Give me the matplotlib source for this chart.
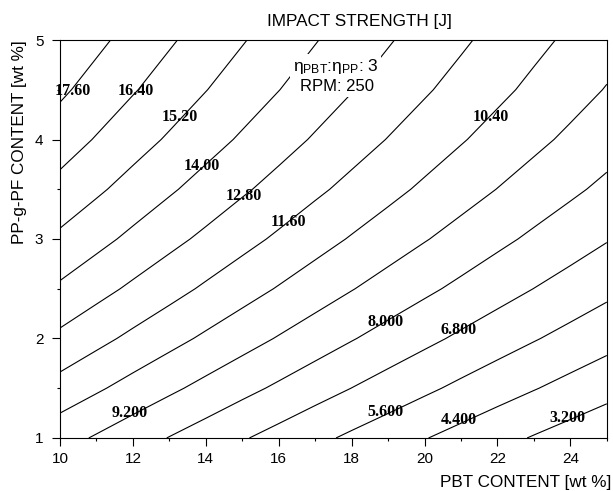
import numpy as np
import matplotlib
matplotlib.use('Agg')
import matplotlib.pyplot as plt
from matplotlib.ticker import MultipleLocator

plt.rcParams['font.family'] = ['Liberation Sans', 'DejaVu Sans']
plt.rcParams['mathtext.fontset'] = 'custom'
plt.rcParams['mathtext.rm'] = 'Liberation Sans'
plt.rcParams['mathtext.it'] = 'Liberation Sans:italic'

# impact strength [J], rows = PP-g-PF content, cols = PBT content
pbt = [10, 11, 12, 13, 14, 15, 16, 17, 18, 19, 20, 21, 22, 23, 24, 25]
ppgpf = [1, 1.5, 2, 2.5, 3, 3.5, 4, 4.5, 5]
impact = [
    [9.65, 9.08, 8.51, 7.96, 7.43, 6.90, 6.39, 5.88, 5.39, 4.92, 4.45, 4.00, 3.55, 3.12, 2.71, 2.30],
    [11.15, 10.56, 9.98, 9.42, 8.87, 8.33, 7.81, 7.29, 6.79, 6.30, 5.82, 5.35, 4.90, 4.46, 4.03, 3.61],
    [12.53, 11.93, 11.34, 10.77, 10.21, 9.66, 9.12, 8.59, 8.07, 7.57, 7.08, 6.60, 6.13, 5.68, 5.24, 4.81],
    [13.81, 13.19, 12.59, 12.01, 11.43, 10.87, 10.32, 9.78, 9.25, 8.73, 8.23, 7.74, 7.26, 6.79, 6.34, 5.89],
    [14.97, 14.35, 13.73, 13.13, 12.55, 11.97, 11.41, 10.85, 10.31, 9.79, 9.27, 8.77, 8.27, 7.79, 7.33, 6.87],
    [16.03, 15.39, 14.76, 14.15, 13.55, 12.96, 12.39, 11.82, 11.27, 10.73, 10.20, 9.68, 9.18, 8.69, 8.21, 7.74],
    [16.97, 16.32, 15.68, 15.06, 14.45, 13.85, 13.26, 12.68, 12.11, 11.56, 11.02, 10.49, 9.97, 9.47, 8.98, 8.50],
    [17.81, 17.14, 16.49, 15.86, 15.23, 14.62, 14.02, 13.43, 12.85, 12.28, 11.73, 11.19, 10.66, 10.14, 9.64, 9.14],
    [18.53, 17.86, 17.19, 16.54, 15.91, 15.28, 14.67, 14.06, 13.47, 12.90, 12.33, 11.78, 11.23, 10.70, 10.19, 9.68],
]
levels = [3.2, 4.4, 5.6, 6.8, 8.0, 9.2, 10.4, 11.6, 12.8, 14.0, 15.2, 16.4, 17.6]

# where the level labels sit
label_pos = [(10.34, 4.49), (12.07, 4.49), (13.3, 4.23), (13.88, 3.73),
             (15.04, 3.43), (16.27, 3.17), (21.83, 4.23), (11.9, 1.25),
             (18.94, 2.17), (20.93, 2.09), (18.94, 1.26), (20.93, 1.18),
             (23.92, 1.2)]

fig = plt.figure(figsize=(6.13, 4.91), dpi=100)
ax = fig.add_axes([0.0979, 0.108, 0.892, 0.8105])

X, Y = np.meshgrid(pbt, ppgpf)
cs = ax.contour(X, Y, np.array(impact), levels=levels, colors='black', linewidths=0.8)
labels = ax.clabel(cs, manual=label_pos, inline=False,
                   fmt=lambda v: format(v, '#.4g'), fontsize=11.5)
for t, p in zip(labels, label_pos):
    t.set_position(p)
    t.set_rotation(0)
    t.set_fontfamily('Liberation Serif')
    t.set_fontweight('bold')
    t.set_clip_on(False)

box = dict(facecolor='white', edgecolor='none', pad=2)
ax.text(16.38, 4.69, r'$\mathrm{\eta}_{\mathrm{PBT}}$:$\mathrm{\eta}_{\mathrm{PP}}$: 3',
        fontsize=12.5, ha='left', va='baseline', bbox=box, zorder=5)
ax.text(16.58, 4.485, 'RPM: 250', fontsize=12, ha='left', va='baseline', bbox=box, zorder=5)

ax.set_xlim(10, 25)
ax.set_ylim(1, 5)
ax.xaxis.set_major_locator(MultipleLocator(2))
ax.xaxis.set_minor_locator(MultipleLocator(1))
ax.yaxis.set_major_locator(MultipleLocator(1))
ax.yaxis.set_minor_locator(MultipleLocator(0.5))
ax.tick_params(which='major', direction='out', length=6, width=0.8, labelsize=11)
ax.tick_params(which='minor', direction='out', length=2.5, width=0.8)
ax.tick_params(axis='x', pad=4)
ax.tick_params(axis='y', pad=6)
for s in ax.spines.values():
    s.set_linewidth(0.8)

fig.text(0.587, 0.947, 'IMPACT STRENGTH [J]', ha='center', va='baseline', fontsize=12.3)
fig.text(0.032, 0.9185, 'PP-g-PF CONTENT [wt %]', rotation=90, ha='center', va='top', fontsize=12.3)
fig.text(0.997, 0.008, 'PBT CONTENT [wt %]', ha='right', va='baseline', fontsize=12.3)

fig.savefig('out.png', dpi=100)
